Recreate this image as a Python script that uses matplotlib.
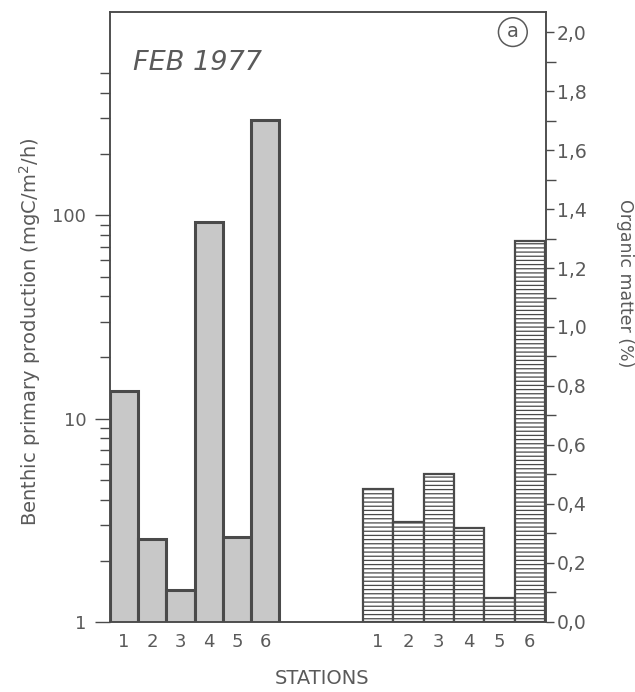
import numpy as np
import matplotlib.pyplot as plt
from matplotlib.ticker import FixedLocator, FixedFormatter, NullFormatter
from matplotlib.patches import Ellipse

plt.rcParams['font.family'] = ['DejaVu Sans']
plt.rcParams['hatch.linewidth'] = 0.9
plt.rcParams['hatch.color'] = '#555555'

# data
stations = ['1', '2', '3', '4', '5', '6']
production = [13.6, 2.55, 1.44, 93, 2.63, 294]      # mgC/m2/h, log scale
organic = [0.45, 0.34, 0.50, 0.32, 0.08, 1.29]      # %
prod_ticks = [1, 10, 100]
prod_labels = ['1', '10', '100']
prod_minor = [2, 3, 4, 5, 6, 7, 8, 9, 20, 30, 40, 50, 60, 70, 80, 90, 200, 300, 400, 500]
om_ticks = [0.0, 0.2, 0.4, 0.6, 0.8, 1.0, 1.2, 1.4, 1.6, 1.8, 2.0]
om_minor = [0.1, 0.3, 0.5, 0.7, 0.9, 1.1, 1.3, 1.5, 1.7, 1.9]

txt = '#5a5a5a'
edge = '#4a4a4a'

fig = plt.figure(figsize=(6.35, 6.92), dpi=100)
ax = fig.add_axes([0.1732, 0.1012, 0.6866, 0.8815])
ax2 = ax.twinx()

# left group: benthic production
xl = np.arange(6)
ax.bar(xl, production, width=1.0, bottom=0, color='#c8c8c8', edgecolor=edge, linewidth=2.2)
ax.set_yscale('log')
ax.set_ylim(1, 1000)

# right group: organic matter
wr = 1.075
xr = 8.47 + wr * (np.arange(6) + 0.5)
ax2.bar(xr, organic, width=wr, color='white', edgecolor=edge, linewidth=1.6, hatch='----')
ax2.set_ylim(0, 2.068)
ax.set_xlim(-0.5, 14.96)

ax.set_xticks(list(xl) + list(xr))
ax.set_xticklabels(stations + stations)
ax.tick_params(axis='x', length=0, pad=8, labelsize=13, labelcolor=txt)

ax.yaxis.set_major_locator(FixedLocator(prod_ticks))
ax.yaxis.set_major_formatter(FixedFormatter(prod_labels))
ax.yaxis.set_minor_locator(FixedLocator(prod_minor))
ax.yaxis.set_minor_formatter(NullFormatter())
ax.tick_params(axis='y', which='major', direction='out', length=11, width=1, color=edge,
               labelsize=13, labelcolor=txt, pad=6)
ax.tick_params(axis='y', which='minor', direction='out', length=7, width=1, color=edge)

ax2.yaxis.set_major_locator(FixedLocator(om_ticks))
ax2.yaxis.set_major_formatter(FixedFormatter([('%.1f' % v).replace('.', ',') for v in om_ticks]))
ax2.yaxis.set_minor_locator(FixedLocator(om_minor))
ax2.tick_params(axis='y', which='major', direction='out', length=6, width=1, color=edge,
                labelsize=13.5, labelcolor=txt, pad=2)
ax2.tick_params(axis='y', which='minor', direction='out', length=7, width=1, color=edge)

for a in (ax, ax2):
    for s in a.spines.values():
        s.set_color(edge)
        s.set_linewidth(1.1)

ax.text(0.053, 0.917, 'FEB 1977', transform=ax.transAxes, fontsize=19.5, style='italic',
        color=txt, ha='left', va='center')
ax.text(0.924, 0.968, 'a', transform=ax.transAxes, fontsize=14, color=txt,
        ha='center', va='center')
ax.add_patch(Ellipse((0.924, 0.967), 0.066, 0.047, transform=ax.transAxes,
                     fill=False, edgecolor=txt, linewidth=1.1))

fig.text(0.047, 1 - 332 / 692, 'Benthic primary production (mgC/m$^2$/h)', rotation=90,
         fontsize=14, color=txt, ha='center', va='center')
fig.text(0.984, 1 - 283 / 692, 'Organic matter (%)', rotation=-90,
         fontsize=12.5, color=txt, ha='center', va='center')
fig.text(0.507, 1 - 679 / 692, 'STATIONS', fontsize=14, color=txt, ha='center', va='center')

fig.savefig('out.png', dpi=100)
